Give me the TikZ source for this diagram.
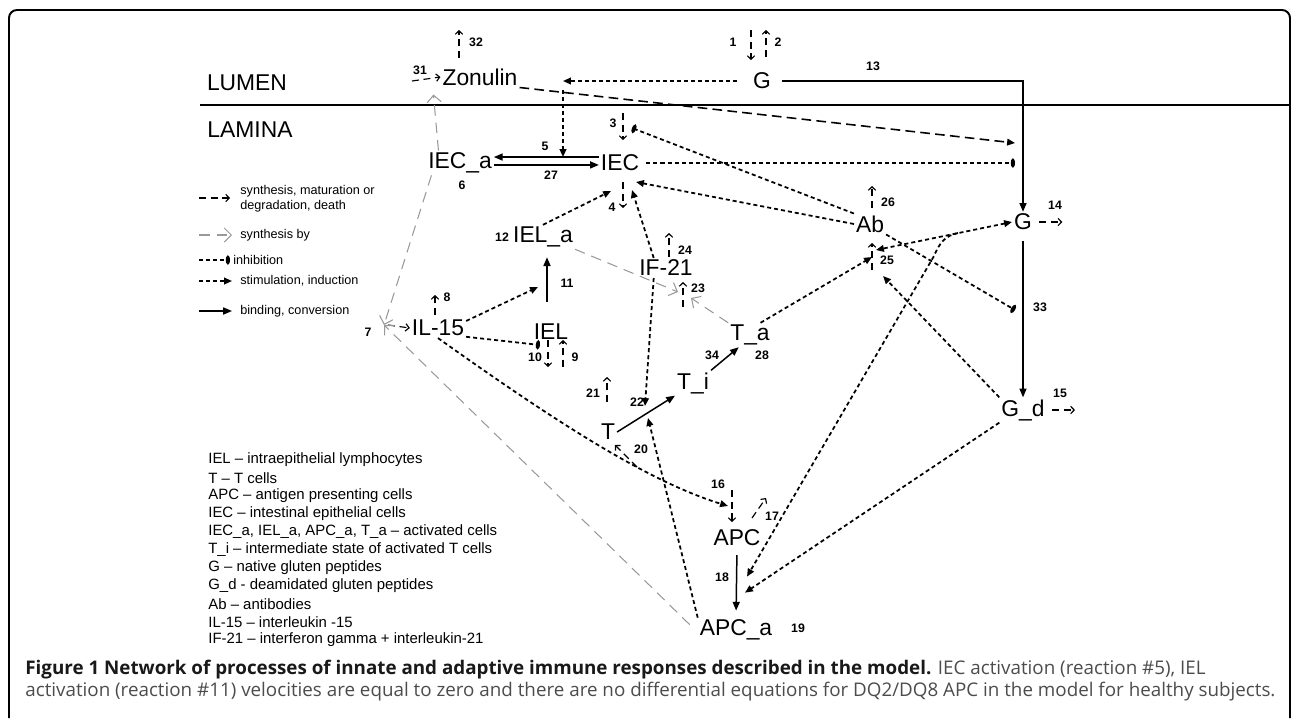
\documentclass[tikz,border=0pt]{standalone}
\usepackage{fontspec}
\setmainfont{Liberation Sans}
\newfontfamily\capfont{Open Sans}
\usetikzlibrary{arrows.meta,calc,positioning}

\tikzset{
  lbl/.style={font=\fontsize{13}{15}\selectfont, inner sep=1pt},
  num/.style={font=\fontsize{7}{8}\selectfont\bfseries, inner sep=0pt},
  synth/.style={line width=0.65pt, dash pattern=on 4pt off 2.6pt, -{Straight Barb[length=2pt,width=4.2pt]}},
  synby/.style={line width=0.6pt, black!40, dash pattern=on 6pt off 4pt, -{Straight Barb[length=4pt,width=8pt]}},
  inhib/.style={line width=1pt, dash pattern=on 2.3pt off 1.7pt, -{Ellipse[length=2.4pt,width=5pt]}},
  stimul/.style={line width=1pt, dash pattern=on 2.3pt off 1.7pt, ->},
  conv/.style={line width=0.85pt, -{Triangle[length=5pt,width=4pt]}},
  keyline/.style={font=\fontsize{7.2}{8.6}\selectfont, anchor=west, inner sep=0pt, align=left},
  abbr/.style={font=\fontsize{8.5}{10}\selectfont, anchor=west, inner sep=0pt},
  captxt/.style={anchor=west, inner sep=0pt, font=\capfont\fontsize{10.7}{13}\selectfont}
}

\begin{document}
\begin{tikzpicture}[x=0.02cm, y=-0.02cm, >={Triangle[length=4.5pt,width=3.8pt]}]
		\useasboundingbox (0,0) rectangle (1292,718);
		\draw[line width=1.1pt, rounded corners=4.5pt] (9,718) -- (9,10) -- (1290,10) -- (1290,718);
		\draw[line width=0.9pt] (200,105) -- (1290,105);
		\node[lbl] (lumen) at (247,83) {LUMEN};
		\node[lbl] (lamina) at (250,130) {LAMINA};
		% species
		\node[lbl] (zon) at (480,77) {Zonulin};
		\node[lbl] (g) at (762,81) {G};
		\node[lbl] (ieca) at (460,163) {IEC\_a};
		\node[lbl] (iec) at (620,163) {IEC};
		\node[lbl] (iela) at (543,237) {IEL\_a};
		\node[lbl] (iel) at (551,332) {IEL};
		\node[lbl] (il) at (438,328) {IL-15};
		\node[lbl] (ifn) at (666,268) {IF-21};
		\node[lbl] (ab) at (870,224) {Ab};
		\node[lbl] (gn) at (1023,222) {G};
		\node[lbl] (gd) at (1023,410) {G\_d};
		\node[lbl] (ta) at (750,335) {T\_a};
		\node[lbl] (ti) at (693,383) {T\_i};
		\node[lbl] (t) at (608,432) {T};
		\node[lbl] (apc) at (737,538) {APC};
		\node[lbl] (apca) at (736,630) {APC\_a};
		% reaction points
		\coordinate (gz) at (563,81);
		\coordinate (r5) at (563,157);
		\coordinate (r3) at (632,128);
		\coordinate (r7) at (384,325);
		\coordinate (r10) at (540,345);
		\coordinate (r13) at (1015,163);
		\coordinate (r13z) at (1015,143);
		\coordinate (r16) at (728,506);
		\coordinate (r22) at (646,412);
		\coordinate (r23) at (683,295);
		\coordinate (r25) at (872,257);
		\coordinate (r33) at (1015,310);
		% lumen
		\draw[synth] (412,81) -- (zon.west);
		\node[num] at (420,70) {31};
		\draw[synth] (459,58) -- (459,30);
		\node[num] at (476,42) {32};
		\draw[synth] (751,30) -- (751,60);
		\node[num] at (733,42) {1};
		\draw[synth] (766,57) -- (766,30);
		\node[num] at (778,42) {2};
		\draw[stimul, shorten <=8pt] (g.west) -- (gz);
		\draw[stimul] ($(gz)+(0,9)$) -- (r5);
		\draw[stimul, line width=0.9pt, dash pattern=on 5.5pt off 3pt] (zon.south east) -- (r13z);
		\draw[conv, shorten <=5pt] (g.east) -- (g -| gn) -- (gn.north);
		\node[num] at (873,66) {13};
		% epithelium
		\draw[conv] ([yshift=3.4pt]iec.west) -- ([yshift=3.4pt]ieca.east);
		\draw[conv] ([yshift=-1.1pt]ieca.east) -- ([yshift=-1.1pt]iec.west);
		\node[num] at (545,146) {5};
		\node[num] at (551,175) {27};
		\node[num] at (462,185) {6};
		\draw[synth] (623,113) -- (623,140);
		\node[num] at (613,123) {3};
		\draw[synth] (623,182) -- (623,208);
		\node[num] at (612,207) {4};
		\draw[inhib, shorten <=3pt] (iec.east) -- (r13);
		\draw[inhib] (ab.north west) -- (r3);
		\draw[stimul] (ab.west) -- ($(iec)+(16,19)$);
		\draw[stimul] (iela.north) -- ($(iec)+(-9,28)$);
		\draw[stimul] ([xshift=-7pt]ifn.north) -- ($(iec)+(12,27)$);
		\draw[synby] ([xshift=7pt]ieca.north west) -- ($(zon.south west)+(-7,7)$);
		\draw[synby] ([xshift=3pt]ieca.south west) -- (r7);
		% IL-15 and IEL
		\draw[synth] ($(r7)+(4,0)$) -- (il.west);
		\node[num] at (368,332) {7};
		\draw[synth] (435,315) -- (435,295);
		\node[num] at (447,297) {8};
		\draw[stimul] ([yshift=4pt]il.east) -- (538,287);
		\draw[inhib] ([yshift=-5pt]il.east) -- (r10);
		\draw[conv] ($(iel.north)+(-4,-20)$) -- ($(iela.south)+(4,8)$);
		\node[num] at (567,283) {11};
		\node[num] at (502,237) {12};
		\draw[synth] (548,340) -- (548,367);
		\node[num] at (535,357) {10};
		\draw[synth] (563,367) -- (563,340);
		\node[num] at (575,357) {9};
		\draw[stimul] (il.south) .. controls (560,425) and (650,482) .. (r16);
		% T cells
		\draw[synth] (669,257) -- (669,233);
		\node[num] at (685,250) {24};
		\draw[synth] (683,307) -- (683,282);
		\node[num] at (698,288) {23};
		\draw[synby] (iela.south east) -- ($(r23)+(-5,-3)$);
		\draw[synby] (ta.north west) -- ($(r23)+(8,3)$);
		\draw[stimul] ([xshift=-7pt]ifn.south) -- ($(r22)+(-1,-6)$);
		\draw[stimul] (apca.north west) -- ($(r22)+(2,6)$);
		\draw[conv] (t.east) -- (ti.south west);
		\draw[conv] (ti.north east) -- ([xshift=6pt]ta.south west);
		\node[num] at (637,402) {22};
		\node[num] at (712,355) {34};
		\node[num] at (762,355) {28};
		\draw[synth] (607,402) -- (607,377);
		\node[num] at (593,393) {21};
		\draw[synth] (637,467) -- (615,445);
		\node[num] at (641,449) {20};
		% antibodies and gluten
		\draw[stimul] ([xshift=6pt]ta.north) -- (r25);
		\draw[synth] (872,270) -- (872,243);
		\node[num] at (887,260) {25};
		\draw[synth] (872,208) -- (872,186);
		\node[num] at (888,202) {26};
		\draw[stimul, <->] (gn.west) -- ($(r25)+(4,-7)$);
		\draw[stimul] (958,233) .. controls (945,236) and (940,242) .. (934,256) -- ($(apca.north)+(11,-41)$);
		\draw[stimul] (gd.north west) -- ($(r25)+(11,19)$);
		\draw[stimul] (gd.south west) -- ($(apca.north)+(9,-25)$);
		\draw[inhib] (ab.south east) -- (r33);
		\draw[conv, shorten <=5pt] (gn.south) -- (gd.north);
		\node[num] at (1040,307) {33};
		\draw[synth] ([xshift=3pt]gn.east) -- ++(23,0);
		\node[num] at (1055,205) {14};
		\draw[synth] ([xshift=3pt]gd.east) -- ++(23,0);
		\node[num] at (1060,393) {15};
		% APC
		\draw[synth] (732,490) -- (732,522);
		\node[num] at (718,484) {16};
		\draw[synth] (752,518) -- (766,498);
		\node[num] at (772,516) {17};
		\draw[conv, shorten <=4pt, shorten >=4pt] (apc.south) -- (apca.north);
		\node[num] at (722,577) {18};
		\node[num] at (798,628) {19};
		\draw[synby] ($(apca.north west)+(-8,7)$) -- (r7);
		% legend
		\draw[synth] (199,198) -- (230,198);
		\node[keyline] at (240,199) {synthesis, maturation or\\degradation, death};
		\draw[synby] (199,235) -- (232,235);
		\node[keyline] at (240,235) {synthesis by};
		\draw[inhib] (199,260) -- (230,260);
		\node[keyline] at (233,260) {inhibition};
		\draw[stimul] (199,281) -- (232,281);
		\node[keyline] at (240,281) {stimulation, induction};
		\draw[conv] (199,311) -- (232,311);
		\node[keyline] at (240,311) {binding, conversion};
		\foreach \txt [count=\i from 0] in {{IEL – intraepithelial lymphocytes}, {T – T cells}, {APC – antigen presenting cells}, {IEC – intestinal epithelial cells}, {IEC\_a, IEL\_a, APC\_a, T\_a – activated cells}, {T\_i – intermediate state of activated T cells}, {G – native gluten peptides}, {G\_d - deamidated gluten peptides}, {Ab – antibodies}, {IL-15 – interleukin -15}, {IF-21 – interferon gamma + interleukin-21}}
		\node[abbr] (key\i) at (208,460+18*\i) {\txt};
		% caption
		\node[captxt] (cap1) at (25,670) {\textbf{\color{black!90}Figure 1 Network of processes of innate and adaptive immune responses described in the model.} {\color{black!70}IEC activation (reaction \#5), IEL}};
		\node[captxt, text=black!70] (cap2) at (25,692) {activation (reaction \#11) velocities are equal to zero and there are no differential equations for DQ2/DQ8 APC in the model for healthy subjects.};
		\end{tikzpicture}
\end{document}
